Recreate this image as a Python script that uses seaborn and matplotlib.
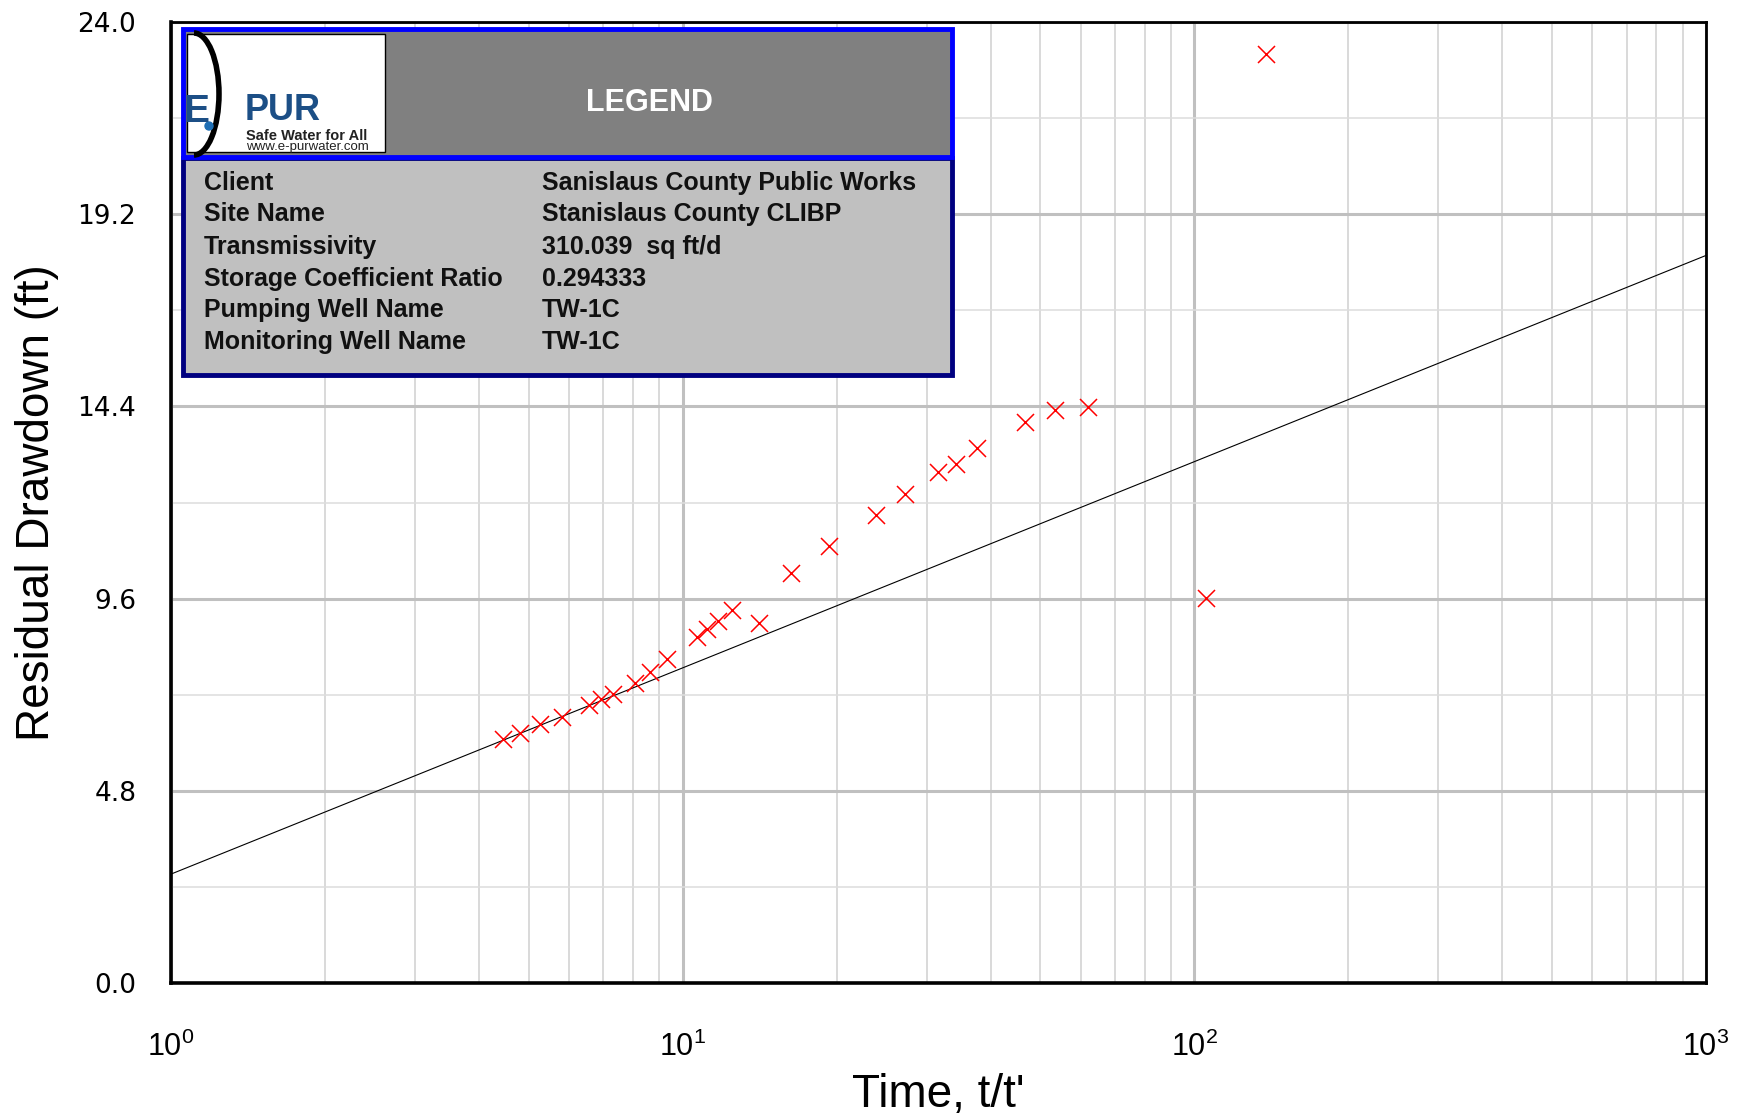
import numpy as np
import pandas as pd
import seaborn as sns
import matplotlib.pyplot as plt
from matplotlib.patches import Rectangle, Arc, Circle
from matplotlib.ticker import LogLocator, MultipleLocator, FormatStrFormatter, NullFormatter

# recovery test data
time_ratio = [4.46, 4.82, 5.27, 5.82, 6.56, 6.93, 7.31, 8.08, 8.63, 9.31,
              10.67, 11.18, 11.73, 12.46, 14.09, 16.27, 19.30, 23.89, 27.19,
              31.56, 34.24, 37.63, 46.71, 53.33, 61.93, 105.6, 138.0]
residual_drawdown = [6.09, 6.24, 6.46, 6.65, 6.94, 7.09, 7.21, 7.50, 7.77, 8.08,
                     8.63, 8.83, 9.05, 9.32, 8.98, 10.25, 10.91, 11.68, 12.20,
                     12.75, 12.96, 13.37, 14.01, 14.31, 14.39, 9.61, 23.19]

# straight line fit (Theis recovery)
fit_intercept = 2.72   # ft at t/t' = 1
fit_slope = 5.15       # ft per log cycle
fit_range = [1, 1000]

legend_labels = ['Client', 'Site Name', 'Transmissivity', 'Storage Coefficient Ratio',
                 'Pumping Well Name', 'Monitoring Well Name']
legend_values = ['Sanislaus County Public Works', 'Stanislaus County CLIBP',
                 '310.039  sq ft/d', '0.294333', 'TW-1C', 'TW-1C']

sns.set_style('white')
plt.rcParams['font.family'] = ['Liberation Sans', 'DejaVu Sans']
plt.rcParams['mathtext.fontset'] = 'custom'
plt.rcParams['mathtext.rm'] = 'Liberation Sans'
plt.rcParams['text.color'] = 'black'
plt.rcParams['axes.labelcolor'] = 'black'
plt.rcParams['xtick.color'] = 'black'
plt.rcParams['ytick.color'] = 'black'

df = pd.DataFrame({'t': time_ratio, 's': residual_drawdown})
fit_x = np.array(fit_range, dtype=float)
fit = pd.DataFrame({'t': fit_x, 's': fit_intercept + fit_slope * np.log10(fit_x)})

W, H = 1737, 1118
fig = plt.figure(figsize=(W / 100, H / 100), dpi=100)
ax = fig.add_axes([171 / W, 1 - 983 / H, (1706 - 171) / W, (983 - 22) / H])

sns.lineplot(data=fit, x='t', y='s', color='black', lw=0.8, ax=ax)
sns.scatterplot(data=df, x='t', y='s', marker='x', color='red', s=150,
                linewidth=1.1, ax=ax, zorder=5)

ax.set_xscale('log')
ax.set_xlim(1, 1000)
ax.set_ylim(0, 24)
ax.yaxis.set_major_locator(MultipleLocator(4.8))
ax.yaxis.set_minor_locator(MultipleLocator(2.4))
ax.yaxis.set_major_formatter(FormatStrFormatter('%.1f'))
ax.xaxis.set_minor_locator(LogLocator(base=10, subs=np.arange(2, 10)))
ax.xaxis.set_minor_formatter(NullFormatter())

ax.grid(which='major', color='#c0c0c0', lw=2.2)
ax.xaxis.grid(which='minor', color='#d0d0d0', lw=1.1)
ax.yaxis.grid(which='minor', color='#dddddd', lw=1.1)
ax.set_axisbelow(True)

for side in ['left', 'bottom']:
    ax.spines[side].set_linewidth(2.6)
for side in ['top', 'right']:
    ax.spines[side].set_linewidth(2.0)
for sp in ax.spines.values():
    sp.set_color('black')

ax.tick_params(which='major', direction='out', length=19, width=1.6, color='black',
               labelcolor='black', pad=6)
ax.tick_params(axis='y', which='major', labelsize=19)
ax.tick_params(axis='x', which='major', labelsize=22, pad=16)
ax.tick_params(which='minor', direction='out', length=12, width=0.8, color='#444444')
for lbl in ax.get_yticklabels():
    lbl.set_fontfamily('DejaVu Sans')

ax.set_xlabel("Time, t/t'", fontsize=33, labelpad=7, color='black')
ax.set_ylabel('Residual Drawdown (ft)', fontsize=33, labelpad=13, color='black')

# legend block drawn in pixel coordinates on an overlay
ov = fig.add_axes([0, 0, 1, 1], zorder=10)
ov.set_xlim(0, W)
ov.set_ylim(H, 0)
ov.axis('off')
ov.patch.set_alpha(0)

ov.add_patch(Rectangle((183, 158), 769, 217, facecolor='#c0c0c0', edgecolor='#000080', lw=3.5))
ov.add_patch(Rectangle((183, 29), 769, 128, facecolor='#808080', edgecolor='#0000ff', lw=3.5))
logo = Rectangle((187, 34), 198, 118, facecolor='white', edgecolor='black', lw=1.0)
ov.add_patch(logo)
ov.add_patch(Arc((194, 94), 50, 122, theta1=-90, theta2=90, color='black', lw=4))
ov.add_patch(Circle((209, 126), 4, color='#1f6fb5'))
t = ov.text(183, 112, 'E', fontsize=28, fontweight='bold', color='#1c4f86', va='center')
t.set_clip_path(logo)
ov.text(245, 111, 'PUR', fontsize=26, fontweight='bold', color='#1c4f86', va='center')
t = ov.text(246, 136, 'Safe Water for All', fontsize=10.5, fontweight='bold', color='#222222', va='center')
t.set_clip_path(logo)
t = ov.text(246, 147, 'www.e-purwater.com', fontsize=9.5, color='#222222', va='center')
t.set_clip_path(logo)

ov.text(649, 103, 'LEGEND', fontsize=22, fontweight='bold', color='white', ha='center', va='center')

row_y = [183, 214, 247, 279, 310, 342]
for y, lab, val in zip(row_y, legend_labels, legend_values):
    ov.text(204, y, lab, fontsize=18, fontweight='bold', color='#111111', va='center')
    ov.text(542, y, val, fontsize=18, fontweight='bold', color='#111111', va='center')

fig.savefig('out.png', dpi=100)
